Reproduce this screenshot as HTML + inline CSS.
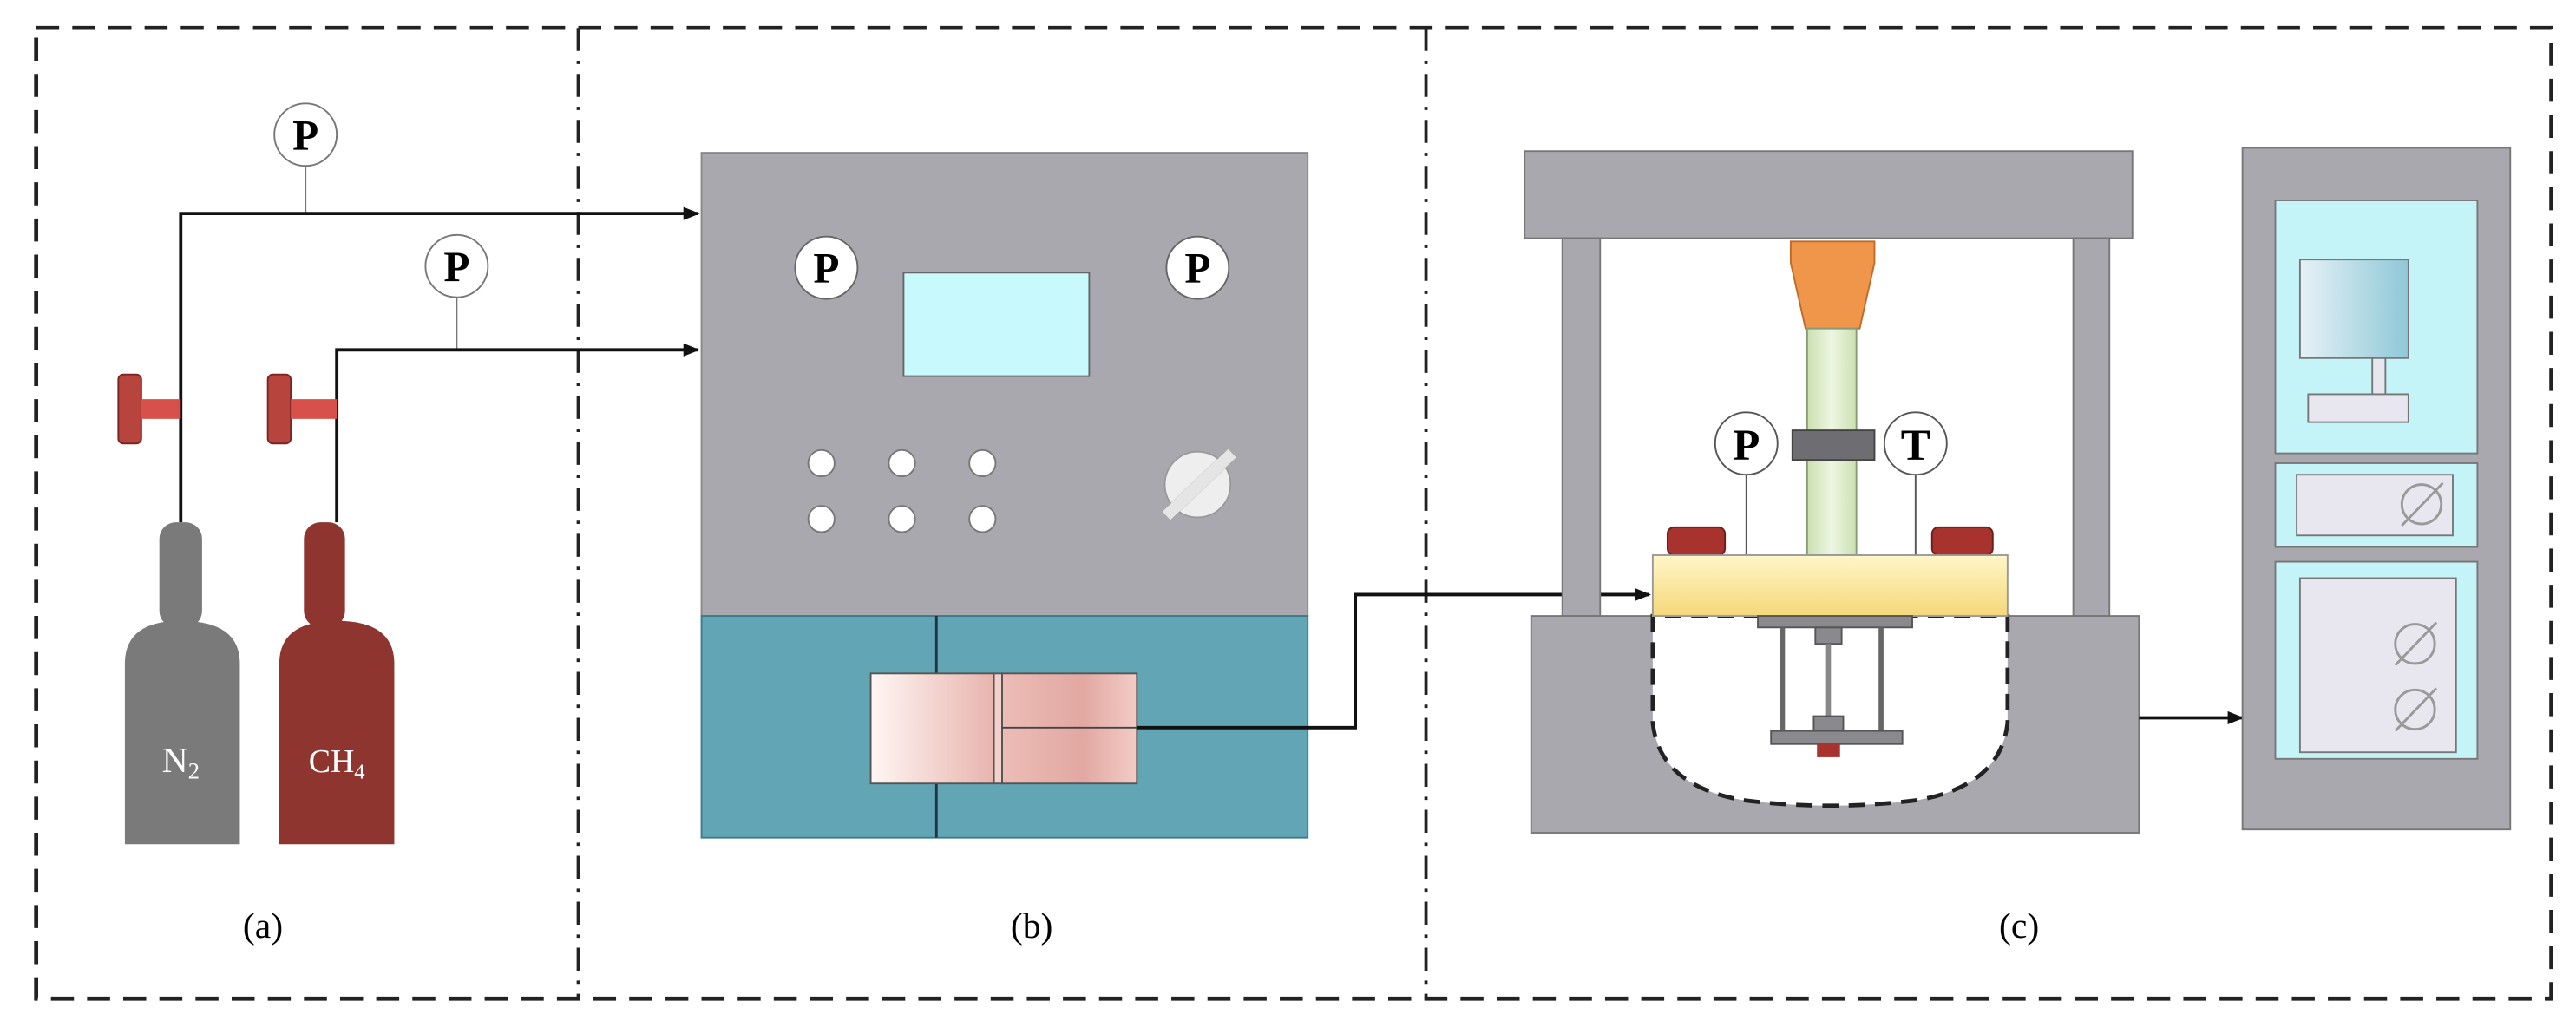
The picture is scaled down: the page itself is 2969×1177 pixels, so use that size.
<!DOCTYPE html>
<html><head><meta charset="utf-8"><style>html,body{margin:0;padding:0;background:#fff}svg{display:block}</style></head>
<body>
<svg width="2969" height="1177" viewBox="0 0 1568 621.6" xmlns="http://www.w3.org/2000/svg" font-family="Liberation Serif, serif">
<defs>
<marker id="ar" markerWidth="10" markerHeight="8" refX="9" refY="4" orient="auto" markerUnits="userSpaceOnUse"><path d="M0,0 L10,4 L0,8 z" fill="#111"/></marker>
<linearGradient id="pk" x1="0" x2="1"><stop offset="0" stop-color="#fff6f4"/><stop offset="1" stop-color="#e8b4ae"/></linearGradient>
<linearGradient id="pk2" x1="0" x2="1"><stop offset="0" stop-color="#edbcb6"/><stop offset="0.6" stop-color="#e2a8a2"/><stop offset="1" stop-color="#f3cbc5"/></linearGradient>
<linearGradient id="yl" x1="0" y1="0" x2="0" y2="1"><stop offset="0" stop-color="#fff6c8"/><stop offset="1" stop-color="#f5d77a"/></linearGradient>
<linearGradient id="gr" x1="0" x2="1"><stop offset="0" stop-color="#c9e0b0"/><stop offset="0.5" stop-color="#eef6e2"/><stop offset="1" stop-color="#c9e0b0"/></linearGradient>
<linearGradient id="mon" x1="0" x2="1"><stop offset="0" stop-color="#e6f1f6"/><stop offset="1" stop-color="#8fc8d8"/></linearGradient>
</defs>
<!-- frames -->
<rect x="22" y="17" width="1531" height="591" fill="none" stroke="#222" stroke-width="2.5" stroke-dasharray="14,8"/>
<line x1="352" y1="17" x2="352" y2="608" stroke="#222" stroke-width="2" stroke-dasharray="14,6,2,6"/>
<line x1="868" y1="17" x2="868" y2="608" stroke="#222" stroke-width="2" stroke-dasharray="14,6,2,6"/>
<!-- pipes (a) -->
<line x1="186" y1="100" x2="186" y2="130" stroke="#777" stroke-width="1"/>
<line x1="278" y1="180" x2="278" y2="213" stroke="#777" stroke-width="1"/>
<polyline points="110,318 110,130 425,130" fill="none" stroke="#111" stroke-width="2" marker-end="url(#ar)"/>
<polyline points="205,318 205,213 425,213" fill="none" stroke="#111" stroke-width="2" marker-end="url(#ar)"/>
<circle cx="186" cy="82" r="19" fill="#fff" stroke="#777"/><text x="186" y="91" font-size="26" font-weight="bold" text-anchor="middle">P</text>
<circle cx="278" cy="162" r="19" fill="#fff" stroke="#777"/><text x="278" y="171" font-size="26" font-weight="bold" text-anchor="middle">P</text>
<!-- valves -->
<rect x="72" y="228" width="14" height="42" rx="3" fill="#b8443e" stroke="#7a2522"/><rect x="86" y="243" width="24" height="12" fill="#d8504a"/>
<rect x="163" y="228" width="14" height="42" rx="3" fill="#b8443e" stroke="#7a2522"/><rect x="177" y="243" width="28" height="12" fill="#d8504a"/>
<!-- cylinders -->
<rect x="97" y="318" width="26" height="64" rx="10" fill="#7a7a7a"/>
<path d="M76,514 V404 Q76,378 110,378 Q146,378 146,404 V514 z" fill="#7a7a7a"/>
<text x="110" y="470" font-size="22" fill="#fff" text-anchor="middle">N<tspan font-size="14" dy="4">2</tspan></text>
<rect x="185" y="318" width="25" height="64" rx="10" fill="#8e3530"/>
<path d="M170,514 V404 Q170,378 205,378 Q240,378 240,404 V514 z" fill="#8e3530"/>
<text x="205" y="470" font-size="20" fill="#fff" text-anchor="middle">CH<tspan font-size="13" dy="4">4</tspan></text>
<text x="160" y="571" font-size="22" text-anchor="middle">(a)</text>
<!-- (b) -->
<rect x="427" y="93" width="369" height="282" fill="#a9a8ae" stroke="#888"/>
<rect x="427" y="375" width="369" height="135" fill="#62a5b5" stroke="#3f7c8a"/>
<rect x="550" y="166" width="113" height="63" fill="#c8fafd" stroke="#666"/>
<circle cx="503" cy="163" r="19" fill="#fff" stroke="#666"/><text x="503" y="172" font-size="26" font-weight="bold" text-anchor="middle">P</text>
<circle cx="729" cy="163" r="19" fill="#fff" stroke="#666"/><text x="729" y="172" font-size="26" font-weight="bold" text-anchor="middle">P</text>
<g fill="#fff" stroke="#777"><circle cx="500" cy="282" r="8"/><circle cx="549" cy="282" r="8"/><circle cx="598" cy="282" r="8"/><circle cx="500" cy="316" r="8"/><circle cx="549" cy="316" r="8"/><circle cx="598" cy="316" r="8"/></g>
<circle cx="729" cy="295" r="20" fill="#eee" stroke="#999"/><line x1="710" y1="314" x2="750" y2="276" stroke="#fff" stroke-width="7"/><line x1="710" y1="314" x2="750" y2="276" stroke="#999" stroke-width="8" stroke-opacity="0.25"/>
<line x1="570" y1="375" x2="570" y2="510" stroke="#234" stroke-width="1.5"/>
<rect x="530" y="410" width="75" height="67" fill="url(#pk)" stroke="#555"/>
<rect x="605" y="410" width="5" height="67" fill="#f3d0cc" stroke="#555"/>
<rect x="610" y="410" width="82" height="67" fill="url(#pk2)" stroke="#555"/>
<line x1="610" y1="443" x2="692" y2="443" stroke="#444"/>
<polyline points="692,443 825,443 825,362 1004,362" fill="none" stroke="#111" stroke-width="2" marker-end="url(#ar)"/>
<text x="628" y="571" font-size="22" text-anchor="middle">(b)</text>
<!-- press -->
<rect x="928" y="92" width="370" height="53" fill="#a9a8ae" stroke="#777"/>
<rect x="951" y="145" width="23" height="230" fill="#a9a8ae" stroke="#777"/>
<rect x="1262" y="145" width="22" height="230" fill="#a9a8ae" stroke="#777"/>
<rect x="932" y="375" width="370" height="132" fill="#a9a8ae" stroke="#777"/>
<path d="M1006,375 V440 Q1010,478 1060,487 Q1114,494 1168,487 Q1218,478 1222,440 V375 z" fill="#fff" stroke="#222" stroke-width="2.5" stroke-dasharray="10,6"/>
<path d="M1090,147 H1141 V160 L1132,200 H1099 L1090,160 z" fill="#f0964a" stroke="#c06a2a"/>
<rect x="1100" y="200" width="30" height="138" fill="url(#gr)" stroke="#8a9a78"/>
<rect x="1091" y="262" width="50" height="18" fill="#6e6e72" stroke="#444"/>
<line x1="1063" y1="289" x2="1063" y2="338" stroke="#555"/><line x1="1166" y1="289" x2="1166" y2="338" stroke="#555"/>
<circle cx="1063" cy="270" r="19" fill="#fff" stroke="#555"/><text x="1063" y="280" font-size="27" font-weight="bold" text-anchor="middle">P</text>
<circle cx="1166" cy="270" r="19" fill="#fff" stroke="#555"/><text x="1166" y="280" font-size="27" font-weight="bold" text-anchor="middle">T</text>
<rect x="1015" y="321" width="35" height="17" rx="4" fill="#a8322d" stroke="#6a1f1c"/>
<rect x="1176" y="321" width="37" height="17" rx="4" fill="#a8322d" stroke="#6a1f1c"/>
<rect x="1006" y="338" width="216" height="37" fill="url(#yl)" stroke="#999"/>
<rect x="1070" y="375" width="94" height="7" fill="#8a8a8e" stroke="#555"/>
<rect x="1105" y="382" width="16" height="10" fill="#8a8a8e" stroke="#555"/>
<line x1="1085" y1="382" x2="1085" y2="445" stroke="#666" stroke-width="3"/><line x1="1145" y1="382" x2="1145" y2="445" stroke="#666" stroke-width="3"/>
<line x1="1113" y1="392" x2="1113" y2="440" stroke="#888" stroke-width="3"/>
<rect x="1104" y="436" width="18" height="9" fill="#8a8a8e" stroke="#555"/>
<rect x="1078" y="445" width="80" height="8" fill="#8a8a8e" stroke="#555"/>
<rect x="1106" y="453" width="14" height="8" fill="#a8322d"/>
<line x1="1302" y1="437" x2="1365" y2="437" stroke="#111" stroke-width="2" marker-end="url(#ar)"/>
<!-- controller -->
<rect x="1365" y="90" width="163" height="415" fill="#a9a8ae" stroke="#777"/>
<rect x="1385" y="122" width="123" height="154" fill="#c4f4f8" stroke="#777"/>
<rect x="1385" y="282" width="123" height="51" fill="#c4f4f8" stroke="#777"/>
<rect x="1385" y="342" width="123" height="120" fill="#c4f4f8" stroke="#777"/>
<rect x="1400" y="158" width="66" height="60" fill="url(#mon)" stroke="#777"/>
<rect x="1444" y="218" width="8" height="22" fill="#e8e6ee" stroke="#777"/>
<rect x="1405" y="240" width="61" height="17" fill="#e8e6ee" stroke="#777"/>
<rect x="1398" y="289" width="95" height="37" fill="#e8e6ee" stroke="#777"/>
<rect x="1400" y="352" width="95" height="106" fill="#e8e6ee" stroke="#777"/>
<g fill="none" stroke="#999" stroke-width="1.5"><circle cx="1474" cy="307" r="12"/><line x1="1462" y1="320" x2="1487" y2="294"/><circle cx="1470" cy="392" r="12"/><line x1="1458" y1="405" x2="1483" y2="379"/><circle cx="1470" cy="432" r="12"/><line x1="1458" y1="445" x2="1483" y2="419"/></g>
<text x="1229" y="571" font-size="22" text-anchor="middle">(c)</text>
</svg>
</body></html>
